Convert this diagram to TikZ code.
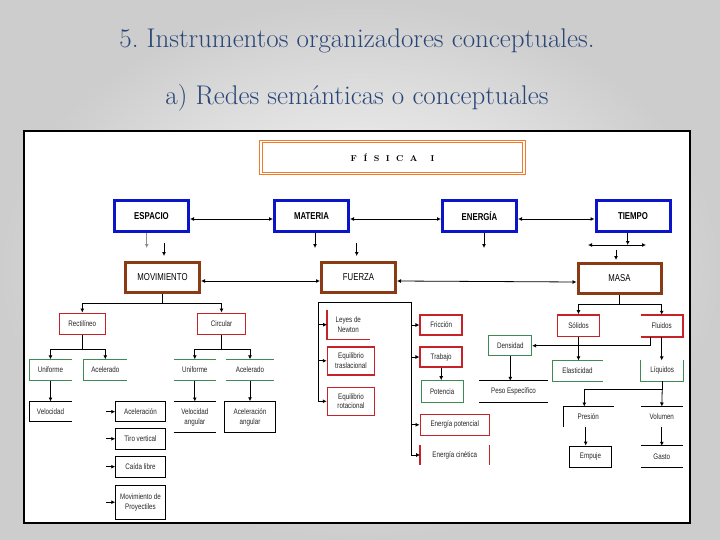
\documentclass[tikz,border=0pt]{standalone}
\usepackage{fontspec}
\newfontfamily\narrowsf[FakeStretch=0.78]{Liberation Sans}
\definecolor{titleblue}{HTML}{2A4677}
\definecolor{conceptblue}{HTML}{0A14C8}
\definecolor{branchbrown}{HTML}{8A3B14}
\definecolor{leafred}{HTML}{C62228}
\definecolor{leafgreen}{HTML}{3E8A55}
\definecolor{headorange}{HTML}{EE7A2A}
\definecolor{slidegray}{HTML}{CDCDCD}
\usepackage{tikz}
\usetikzlibrary{arrows.meta,positioning,calc}
\tikzset{
  slidetitle/.style={font=\fontsize{27}{30}\selectfont, text=titleblue},
  headbox/.style={
    rectangle, draw=headorange, double=white, double distance=1.1pt,
    line width=1.3pt, inner sep=0pt,
    minimum width=263pt, minimum height=32pt,
    font=\bfseries\fontsize{8.5}{10}\selectfont
  },
  concept/.style={
    rectangle, draw=conceptblue, line width=3pt, fill=white,
    inner sep=0pt, minimum width=74pt, minimum height=31pt,
    font=\narrowsf\bfseries\fontsize{10}{11}\selectfont
  },
  branch/.style={
    rectangle, draw=branchbrown, line width=3pt, fill=white,
    inner sep=0pt, minimum width=74pt, minimum height=30pt,
    font=\narrowsf\fontsize{10}{11}\selectfont
  },
  leaf/.style={
    rectangle, inner sep=0pt, align=center, text=black!85,
    font=\narrowsf\fontsize{8}{9.5}\selectfont
  },
  redbox/.style={leaf, draw=leafred, line width=1.5pt},
  greenbox/.style={leaf, draw=leafgreen, line width=1pt},
  blackbox/.style={leaf, draw=black, line width=0.9pt},
  redline/.style={draw=leafred, line width=1.5pt},
  greenline/.style={draw=leafgreen, line width=1pt},
  blackline/.style={draw=black, line width=0.9pt},
  ln/.style={line width=0.8pt},
  arr/.style={-{Latex[length=4pt,width=4pt]}, line width=0.8pt},
  biarr/.style={{Latex[length=4pt,width=4pt]}-{Latex[length=4pt,width=4pt]},
    line width=0.8pt},
}

\begin{document}
\begin{tikzpicture}[x=1pt, y=-1pt]

  % ── Slide background ─────────────────────────────────────────────────────────
  \useasboundingbox (0,0) rectangle (720,540);
  \shade[inner color=white, outer color=slidegray] (0,0) rectangle (720,540);
  \draw[line width=1.2pt, fill=white] (24,131) rectangle (690,523);

  \node[slidetitle] (title) at (357,41) {5.\ Instrumentos organizadores conceptuales.};
  \node[slidetitle] (subtitle) at (357,98) {a) Redes semánticas o conceptuales};

  % ── Row positions ────────────────────────────────────────────────────────────
  \def\rowA{216}      % blue concepts
  \def\rowB{277.5}    % brown branches
  \def\gap{\hspace{6.5pt}}

  % ════════════════════════════════════════════════════════════════════════════
  % HEAD + MAIN CONCEPTS
  % ════════════════════════════════════════════════════════════════════════════
  \node[headbox] (fis) at (392.5,157.5) {F\gap Í\gap S\gap I\gap C\gap A\gap\gap I};

  \node[concept] (esp) at (151.5,\rowA) {ESPACIO};
  \node[concept] (mat) at (311.5,\rowA) {MATERIA};
  \node[concept] (ene) at (479.5,\rowA) {ENERGÍA};
  \node[concept] (tie) at (633,\rowA)   {TIEMPO};

  \node[branch] (mov) at (162.5,\rowB) {MOVIMIENTO};
  \node[branch] (fue) at (358.5,\rowB) {FUERZA};
  \node[branch, minimum width=83pt] (mas) at (619.5,278.5) {MASA};

  \foreach \a/\b in {esp/mat, mat/ene, ene/tie}
    \draw[biarr] ([yshift=-3pt]\a.east) -- ([yshift=-3pt]\b.west);
  \foreach \a/\b in {mov/fue, fue/mas}
    \draw[biarr] ([yshift=-3.5pt]\a.east) -- ([yshift=-3.5pt]\b.west);

  % short links under the concepts
  \coordinate (espS) at (146.7,248);
  \coordinate (matS) at (315,248);
  \coordinate (eneS) at (484,248);
  \coordinate (tieS) at (627.7,245);
  \draw[arr, black!45] (espS |- esp.south) -- (espS);
  \draw[arr] (matS |- mat.south) -- (matS);
  \draw[arr] (eneS |- ene.south) -- (eneS);
  \draw[arr] (tieS |- tie.south) -- (tieS);
  \coordinate (tieL) at (588,245);
  \coordinate (tieR) at (646,245);
  \draw[biarr] (tieL) -- (tieR);

  \coordinate (movA) at (164,243);   \coordinate (movB) at (164,256);
  \coordinate (fueA) at (356.7,243); \coordinate (fueB) at (356.7,256);
  \coordinate (masA) at (616,250);   \coordinate (masB) at (616,260);
  \draw[arr] (movA) -- (movB);
  \draw[arr] (fueA) -- (fueB);
  \draw[arr] (masA) -- (masB);

  % ════════════════════════════════════════════════════════════════════════════
  % MOVIMIENTO
  % ════════════════════════════════════════════════════════════════════════════
  \node[redbox, minimum width=46pt, minimum height=21pt] (rec) at (82.3,323.8) {Rectilíneo};
  \node[redbox, minimum width=48pt, minimum height=21pt] (cir) at (221.5,323.8) {Circular};

  \draw[ln] (mov.south) -- ++(0,9) coordinate (movJ);
  \draw[arr] (movJ) -| (rec.north);
  \draw[arr] (movJ) -| (cir.north);

  \node[leaf, minimum width=42pt, minimum height=21pt] (uniA) at (50.5,370)  {Uniforme};
  \node[leaf, minimum width=43pt, minimum height=21pt] (aceA) at (105.3,370) {Acelerado};
  \node[leaf, minimum width=42pt, minimum height=21pt] (uniB) at (194.8,370) {Uniforme};
  \node[leaf, minimum width=48pt, minimum height=21pt] (aceB) at (250,370)   {Acelerado};
  \draw[greenline] (uniA.north east) -- (uniA.north west) -- (uniA.south west) -- (uniA.south east);
  \draw[greenline] (aceA.north east) -- (aceA.north west) -- (aceA.south west) -- (aceA.south east);
  \draw[greenline] (uniB.north west) -- (uniB.north east) (uniB.south west) -- (uniB.south east);
  \draw[greenline] (aceB.north west) -- (aceB.north east) (aceB.south west) -- (aceB.south east);

  \draw[ln] (rec.south) -- ++(0,14.5) coordinate (recJ);
  \draw[arr] (recJ) -| (uniA.north);
  \draw[arr] (recJ) -| (aceA.north);
  \draw[ln] (cir.south) -- ++(0,14.5) coordinate (cirJ);
  \draw[arr] (cirJ) -| (uniB.north);
  \draw[arr] (cirJ) -| (aceB.north);

  \node[leaf, minimum width=42pt, minimum height=20pt] (velA) at (50.5,411.7) {Velocidad};
  \draw[blackline] (velA.north east) -- (velA.north west) -- (velA.south west) -- (velA.south east);
  \node[leaf, minimum width=42pt, minimum height=31pt] (velB) at (194.8,417.2) {Velocidad\\angular};
  \draw[blackline] (velB.north west) -- (velB.north east) (velB.south west) -- (velB.south east);
  \node[blackbox, minimum width=51pt, minimum height=31pt] (accB) at (250,417.2) {Aceleración\\angular};

  \draw[arr] (uniA) -- (velA);
  \draw[arr] (uniB) -- (velB);
  \draw[arr] (aceB) -- (accB);

  % accelerated motions
  \node[blackbox, minimum width=49.6pt, minimum height=20pt] (accA) at (140.5,411.7) {Aceleración};
  \node[blackbox, minimum width=49.6pt, minimum height=21pt] (tiro) at (140.5,438.8) {Tiro vertical};
  \node[blackbox, minimum width=49.6pt, minimum height=21pt] (caida) at (140.5,466.7) {Caída libre};
  \node[blackbox, minimum width=49.6pt, minimum height=34pt] (proy) at (140.5,502.2) {Movimiento de\\Proyectiles};
  \foreach \n in {accA,tiro,caida,proy} {
    \draw[arr] ([xshift=-9pt]\n.west) -- (\n.west);
  }

  % ════════════════════════════════════════════════════════════════════════════
  % FUERZA
  % ════════════════════════════════════════════════════════════════════════════
  \coordinate (fueL) at (318.3,302);
  \coordinate (fueR) at (411,302);
  \draw[ln] (fueL) -- (fueR);

  \node[leaf, minimum width=42pt, minimum height=29pt] (newt) at (348.3,324.7) {Leyes de\\Newton};
  \draw[redline] (newt.north west) -- (newt.south west) -- (newt.south east);
  \node[redbox, minimum width=47pt, minimum height=28pt] (eqt) at (351,360.8) {Equilibrio\\traslacional};
  \node[redbox, minimum width=47pt, minimum height=28pt] (eqr) at (351,401.3) {Equilibrio\\rotacional};
  \foreach \n in {newt,eqt,eqr} {
    \draw[arr] (fueL) |- (\n.west);
  }

  \node[redbox, minimum width=42pt, minimum height=20pt] (fric) at (441.2,325) {Fricción};
  \node[redbox, minimum width=42pt, minimum height=20pt] (trab) at (441.2,357) {Trabajo};
  \node[greenbox, minimum width=42pt, minimum height=22pt] (pot) at (442.2,391.7) {Potencia};
  \node[redbox, minimum width=69pt, minimum height=21pt] (epot) at (454.8,424.8) {Energía potencial};
  \node[leaf, minimum width=69pt, minimum height=20pt] (ecin) at (454.8,455) {Energía cinética};
  \draw[redline] (ecin.north west) -- (ecin.south west) (ecin.north east) -- (ecin.south east);
  \foreach \n in {fric,trab,epot,ecin} {
    \draw[arr] (fueR) |- (\n.west);
  }
  \draw[arr] (trab) -- (trab |- pot.north);

  % ════════════════════════════════════════════════════════════════════════════
  % MASA
  % ════════════════════════════════════════════════════════════════════════════
  \node[redbox, minimum width=41.6pt, minimum height=21.7pt] (sol) at (578.5,325.8) {Sólidos};
  \node[leaf, minimum width=42pt, minimum height=21.7pt] (flu) at (661.7,325.8) {Fluidos};
  \draw[redline] (flu.north west) -- (flu.north east) -- (flu.south east) -- (flu.south west);

  \draw[ln] (mas.south) -- ++(0,9.5) coordinate (masJ);
  \draw[arr] (masJ) -| (sol.north);
  \draw[arr] (masJ) -| (flu.north);

  \node[greenbox, minimum width=42.7pt, minimum height=20pt] (dens) at (510.3,345.7) {Densidad};
  \node[leaf, minimum width=68.4pt, minimum height=21.3pt] (peso) at (513.5,391.7) {Peso Específico};
  \draw[blackline] (peso.north west) -- (peso.north east) (peso.south west) -- (peso.south east);
  \node[leaf, minimum width=50.4pt, minimum height=20.3pt] (elas) at (577.5,370.8) {Elasticidad};
  \draw[greenline] (elas.north east) -- (elas.north west) -- (elas.south west) -- (elas.south east);
  \node[leaf, minimum width=42.3pt, minimum height=20.3pt] (liq) at (662.2,370.8) {Líquidos};
  \draw[greenline] (liq.north west) -- (liq.south west) -- (liq.south east) -- (liq.north east);

  \draw[arr] ([xshift=-11.7pt]flu.south) |- (dens.east);
  \draw[arr] (sol.south) -- (sol.south |- elas.north);
  \draw[arr] (flu.south) -- (flu.south |- liq.north);
  \draw[arr] (dens.south) -- (dens.south |- peso.north);

  \node[leaf, minimum width=50pt, minimum height=20pt] (pres) at (588.3,416.7) {Presión};
  \draw[blackline] (pres.north east) -- (pres.north west) -- (pres.south west);
  \node[leaf, minimum width=41.7pt, minimum height=20pt] (vol) at (661.8,416.7) {Volumen};
  \draw[blackline] (vol.north west) -- (vol.north east);
  \node[blackbox, minimum width=42.4pt, minimum height=21.3pt] (emp) at (590.5,456.7) {Empuje};
  \node[leaf, minimum width=41.7pt, minimum height=21.3pt] (gas) at (661.8,456.7) {Gasto};
  \draw[blackline] (gas.north west) -- (gas.north east) (gas.south west) -- (gas.south east);

  \draw[ln] (liq.south) -- ++(0,8.5) coordinate (liqJ);
  \draw[arr] (liqJ) -| ([xshift=-4pt]pres.north);
  \draw[arr] (liqJ) -- (vol.north);
  \draw[arr] ([xshift=-2.6pt]pres.south) -- ([xshift=-2.6pt]pres.south |- emp.north);
  \draw[arr] (vol) -- (vol |- gas.north);

\end{tikzpicture}
\end{document}
